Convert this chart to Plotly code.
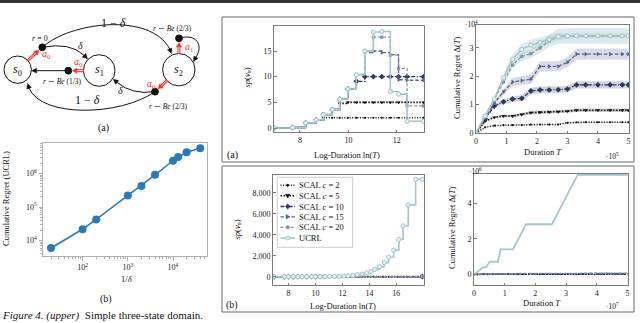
import math
import plotly.graph_objects as go

W, H = 640, 323
def X(p): return p / W
def Y(p): return 1 - p / H

# ---------------- data ----------------
# (b, left) cumulative regret of UCRL vs 1/delta (log-log)
inv_delta = [20, 100, 200, 1000, 2000, 4000, 10000, 13000, 20000, 40000]
ucrl_regret = [6000, 21900, 42700, 220000, 427000, 912000, 2.4e6, 3.1e6, 4.3e6, 5.7e6]
ucrl_regret_lo = [5200, 20400, 41500, 214000, 420000, 900000, 2.37e6, 3.07e6, 4.25e6, 5.65e6]
ucrl_regret_hi = [6500, 22800, 44000, 226000, 435000, 925000, 2.43e6, 3.13e6, 4.35e6, 5.75e6]
log_xticks = [100, 1000, 10000]
log_xtick_text = ["10<sup>2</sup>", "10<sup>3</sup>", "10<sup>4</sup>"]
log_yticks = [1e4, 1e5, 1e6]
log_ytick_text = ["10<sup>4</sup>", "10<sup>5</sup>", "10<sup>6</sup>"]

# (a, right top) span sp(v_n) vs ln(T)
lnT_a = [6.93, 7.7, 8.24, 8.67, 8.97, 9.33, 9.64, 9.98, 10.33, 10.68, 11.03, 11.38, 11.73, 12.07, 12.42, 13.1]
sp_a_c2 = [0, 0.1, 1.0, 1.6, 2.0, 2.0, 2.0, 2.0, 2.0, 2.0, 2.0, 2.0, 2.0, 2.0, 2.0, 2.0]
sp_a_c5 = [0, 0.1, 1.0, 1.6, 2.6, 3.6, 4.8, 5.0, 5.0, 5.0, 5.0, 5.0, 5.0, 5.0, 5.0, 5.0]
sp_a_c10 = [0, 0.1, 1.0, 1.6, 2.6, 3.6, 5.6, 7.6, 9.1, 10.0, 10.0, 10.0, 10.0, 10.0, 10.0, 10.0]
sp_a_c15 = [0, 0.1, 1.0, 1.6, 2.6, 3.6, 5.6, 7.6, 10.4, 14.7, 15.0, 14.7, 14.3, 9.4, 9.3, 9.3]
sp_a_c20 = [0, 0.1, 1.0, 1.6, 2.6, 3.6, 5.6, 7.6, 10.4, 15.0, 17.7, 17.7, 14.2, 11.6, 4.3, 4.3]
sp_a_ucrl = [0, 0.1, 1.0, 1.6, 2.6, 3.6, 5.6, 7.6, 10.4, 15.0, 18.7, 18.8, 7.1, 6.6, 1.3, 1.3]

# (a, right top) cumulative regret (x1e4) vs duration (x1e5), mean and half band
T_a = [0, 0.3, 0.6, 0.9, 1.2, 1.5, 1.8, 2.1, 2.4, 2.7, 3.0, 3.3, 3.6, 4.0, 4.4, 4.8, 5.0]
reg_a_ucrl = [0, 0.6, 1.2, 1.95, 2.6, 2.95, 3.1, 3.2, 3.3, 3.4, 3.42, 3.43, 3.43, 3.43, 3.43, 3.43, 3.43]
reg_a_ucrl_hw = [0, 0.02, 0.05, 0.1, 0.16, 0.2, 0.2, 0.18, 0.15, 0.12, 0.1, 0.08, 0.06, 0.05, 0.05, 0.05, 0.05]
reg_a_c20 = [0, 0.6, 1.15, 1.8, 2.4, 2.7, 2.8, 3.0, 3.25, 3.42, 3.42, 3.42, 3.42, 3.42, 3.42, 3.42, 3.42]
reg_a_c20_hw = [0, 0.02, 0.05, 0.08, 0.12, 0.15, 0.15, 0.18, 0.22, 0.26, 0.28, 0.28, 0.28, 0.28, 0.28, 0.28, 0.28]
reg_a_c15 = [0, 0.55, 1.05, 1.45, 1.8, 1.85, 1.9, 2.35, 2.35, 2.35, 2.5, 2.78, 2.78, 2.78, 2.78, 2.78, 2.78]
reg_a_c15_hw = [0, 0.03, 0.06, 0.1, 0.14, 0.16, 0.17, 0.18, 0.18, 0.18, 0.18, 0.2, 0.2, 0.2, 0.2, 0.2, 0.2]
reg_a_c10 = [0, 0.5, 0.95, 1.1, 1.2, 1.22, 1.48, 1.52, 1.52, 1.53, 1.55, 1.7, 1.7, 1.7, 1.7, 1.7, 1.7]
reg_a_c10_hw = [0, 0.03, 0.06, 0.09, 0.1, 0.11, 0.12, 0.12, 0.12, 0.12, 0.12, 0.13, 0.13, 0.13, 0.13, 0.13, 0.13]
reg_a_c5 = [0, 0.42, 0.55, 0.6, 0.6, 0.65, 0.72, 0.73, 0.74, 0.75, 0.77, 0.8, 0.8, 0.8, 0.8, 0.8, 0.8]
reg_a_c5_hw = [0, 0.02, 0.03, 0.04, 0.05, 0.05, 0.06, 0.06, 0.06, 0.06, 0.06, 0.06, 0.06, 0.06, 0.06, 0.06, 0.06]
reg_a_c2 = [0, 0.2, 0.26, 0.28, 0.28, 0.28, 0.3, 0.3, 0.3, 0.3, 0.36, 0.38, 0.38, 0.38, 0.38, 0.38, 0.38]
reg_a_c2_hw = [0, 0.01, 0.01, 0.015, 0.02, 0.02, 0.02, 0.02, 0.02, 0.02, 0.02, 0.02, 0.02, 0.02, 0.02, 0.02, 0.02]

# (b, right bottom) span vs ln(T)
lnT_b = [6.93, 7.7, 8.0, 8.35, 8.7, 9.0, 9.35, 9.7, 10.0, 10.35, 10.7, 11.05, 11.4, 11.75, 12.1, 12.42,
         12.77, 13.1, 13.45, 13.8, 14.1, 14.4, 14.75, 15.1, 15.43, 15.8, 16.18, 16.5, 16.88, 17.43, 17.93]
sp_b_ucrl = [0, 0, 1, 2, 3, 4, 6, 8, 10, 12, 15, 20, 30, 40, 60, 90, 130, 190, 260, 360, 500, 700, 960,
             1350, 1860, 2540, 3560, 4860, 6860, 9300, 9300]
lnT_b_scal = [6.93, 7.7, 8.0, 8.35, 8.7, 9.0, 9.35, 9.7, 10.0, 10.35, 10.7, 17.93]
sp_b_c2 = [0, 0, 1, 2, 2, 2, 2, 2, 2, 2, 2, 2]
sp_b_c5 = [0, 0, 1, 2, 3, 4, 5, 5, 5, 5, 5, 5]
sp_b_c10 = [0, 0, 1, 2, 3, 4, 6, 8, 10, 10, 10, 10]
sp_b_c15 = [0, 0, 1, 2, 3, 4, 6, 8, 10, 12, 15, 15]
sp_b_c20 = [0, 0, 1, 2, 3, 4, 6, 8, 10, 12, 15, 18]
sp_b_yticks = [0, 2000, 4000, 6000, 8000]
sp_b_ytick_text = ["0", "2,000", "4,000", "6,000", "8,000"]

# (b, right bottom) cumulative regret (x1e6) vs duration (x1e7)
T_b = [0, 0.15, 0.29, 0.4, 0.51, 0.78, 0.87, 1.27, 1.70, 2.54, 3.38, 5.0]
reg_b_ucrl = [0, 0.2, 0.39, 0.4, 0.71, 0.71, 1.41, 1.41, 2.82, 2.82, 5.6, 5.6]
T_b_scal = [0, 0.5, 1, 1.5, 2, 2.5, 3, 3.5, 4, 4.5, 5]
reg_b_c2 = [0, 0.004, 0.005, 0.006, 0.006, 0.006, 0.006, 0.007, 0.007, 0.007, 0.007]
reg_b_c5 = [0, 0.008, 0.01, 0.012, 0.013, 0.014, 0.015, 0.015, 0.016, 0.016, 0.016]
reg_b_c10 = [0, 0.015, 0.02, 0.025, 0.028, 0.03, 0.031, 0.032, 0.033, 0.034, 0.034]
reg_b_c15 = [0, 0.02, 0.03, 0.035, 0.04, 0.043, 0.045, 0.047, 0.048, 0.05, 0.05]
reg_b_c20 = [0, 0.025, 0.04, 0.048, 0.053, 0.057, 0.06, 0.062, 0.064, 0.066, 0.067]

legend_names = ["SCAL <i>c</i> = 2", "SCAL <i>c</i> = 5", "SCAL <i>c</i> = 10",
                "SCAL <i>c</i> = 15", "SCAL <i>c</i> = 20", "UCRL"]

# ---------------- styles ----------------
STY = {
    "c2": dict(color="#111111", dash="1px,1.6px", width=1.6, symbol="circle", size=2.2, band="rgba(40,40,40,0.22)"),
    "c5": dict(color="#151515", dash="1.5px,1.5px", width=1.6, symbol="triangle-down", size=3.8, band="rgba(40,40,45,0.25)"),
    "c10": dict(color="#2d385c", dash="4px,1.5px,1.2px,1.5px", width=1.3, symbol="diamond", size=4.5, band="rgba(70,80,130,0.25)"),
    "c15": dict(color="#56648c", dash="3.5px,2px", width=1.3, symbol="triangle-right", size=4.2, band="rgba(100,110,155,0.25)"),
    "c20": dict(color="#8691a9", dash="3px,2px", width=1.3, symbol="square", size=3.2, band="rgba(150,192,196,0.35)"),
    "ucrl": dict(color="#a3c6cb", dash="solid", width=1.6, symbol="circle", size=4.2, band="rgba(160,200,204,0.35)"),
}
ORDER = ["c2", "c5", "c10", "c15", "c20", "ucrl"]

FONT = "Liberation Serif"
fig = go.Figure()

def marker_for(k):
    s = STY[k]
    if k == "ucrl":
        return dict(symbol="circle", size=s["size"], color="#e3eff0", line=dict(color=s["color"], width=1))
    return dict(symbol=s["symbol"], size=s["size"], color=s["color"], line=dict(width=0))

# log-log plot
fig.add_trace(go.Scatter(x=inv_delta + inv_delta[::-1], y=ucrl_regret_hi + ucrl_regret_lo[::-1],
                         fill="toself", fillcolor="rgba(120,195,165,0.45)", line=dict(width=0),
                         mode="lines", xaxis="x", yaxis="y", hoverinfo="skip", showlegend=False))
fig.add_trace(go.Scatter(x=inv_delta, y=ucrl_regret, mode="lines+markers",
                         line=dict(color="#2a7ab8", width=1.5), marker=dict(size=8, color="#2a7ab8"),
                         xaxis="x", yaxis="y", showlegend=False))

# top-left span steps
sp_a = {"c2": sp_a_c2, "c5": sp_a_c5, "c10": sp_a_c10, "c15": sp_a_c15, "c20": sp_a_c20, "ucrl": sp_a_ucrl}
for k in ORDER:
    s = STY[k]
    fig.add_trace(go.Scatter(x=lnT_a, y=sp_a[k], mode="lines+markers", line_shape="hv",
                             line=dict(color=s["color"], width=s["width"], dash=s["dash"]),
                             marker=marker_for(k), xaxis="x2", yaxis="y2", showlegend=False))

# top-right regret with bands
reg_a = {"c2": (reg_a_c2, reg_a_c2_hw), "c5": (reg_a_c5, reg_a_c5_hw), "c10": (reg_a_c10, reg_a_c10_hw),
         "c15": (reg_a_c15, reg_a_c15_hw), "c20": (reg_a_c20, reg_a_c20_hw), "ucrl": (reg_a_ucrl, reg_a_ucrl_hw)}
for k in ORDER:
    m, hw = reg_a[k]
    hi = [a + b for a, b in zip(m, hw)]
    lo = [a - b for a, b in zip(m, hw)]
    fig.add_trace(go.Scatter(x=T_a + T_a[::-1], y=hi + lo[::-1], fill="toself", fillcolor=STY[k]["band"],
                             line=dict(width=0), mode="lines", xaxis="x3", yaxis="y3",
                             hoverinfo="skip", showlegend=False))
for k in ORDER:
    s = STY[k]
    fig.add_trace(go.Scatter(x=T_a, y=reg_a[k][0], mode="lines+markers",
                             line=dict(color=s["color"], width=s["width"], dash=s["dash"]),
                             marker=marker_for(k), xaxis="x3", yaxis="y3", showlegend=False))

# bottom-left span steps
sp_b = {"c2": sp_b_c2, "c5": sp_b_c5, "c10": sp_b_c10, "c15": sp_b_c15, "c20": sp_b_c20}
for k in ORDER[:-1]:
    s = STY[k]
    fig.add_trace(go.Scatter(x=lnT_b_scal, y=sp_b[k], mode="lines+markers", line_shape="hv",
                             line=dict(color=s["color"], width=s["width"], dash=s["dash"]),
                             marker=marker_for(k), xaxis="x4", yaxis="y4", showlegend=False))
s = STY["ucrl"]
fig.add_trace(go.Scatter(x=lnT_b, y=sp_b_ucrl, mode="lines+markers", line_shape="hv",
                         line=dict(color=s["color"], width=s["width"]),
                         marker=marker_for("ucrl"), xaxis="x4", yaxis="y4", showlegend=False))

# bottom-right regret
reg_b = {"c2": reg_b_c2, "c5": reg_b_c5, "c10": reg_b_c10, "c15": reg_b_c15, "c20": reg_b_c20}
for k in ORDER[:-1]:
    s = STY[k]
    fig.add_trace(go.Scatter(x=T_b_scal, y=reg_b[k], mode="lines",
                             line=dict(color=s["color"], width=s["width"], dash=s["dash"]),
                             xaxis="x5", yaxis="y5", showlegend=False))
fig.add_trace(go.Scatter(x=T_b, y=reg_b_ucrl, mode="lines", line=dict(color=STY["ucrl"]["color"], width=1.8),
                         xaxis="x5", yaxis="y5", showlegend=False))

# ---------------- axes ----------------
def axis(domain, rng, anchor, tickvals=None, ticktext=None, **kw):
    d = dict(domain=domain, range=rng, anchor=anchor, showline=True, mirror=True, linecolor="#7a7a7a",
             linewidth=1, ticks="inside", ticklen=2.5, tickcolor="#7a7a7a", showgrid=False, zeroline=False,
             tickfont=dict(size=8, color="#222", family=FONT), automargin=False)
    if tickvals is not None:
        d["tickvals"] = tickvals
    if ticktext is not None:
        d["ticktext"] = ticktext
    d.update(kw)
    return d

minor_log_x = [d * 10 ** e for e in range(1, 5) for d in range(2, 10)]
minor_log_y = [d * 10 ** e for e in range(3, 7) for d in range(2, 10)]
layout_axes = dict(
    xaxis=axis([X(43), X(207)], [1.124, 4.752], "y", log_xticks, log_xtick_text, type="log",
               ticks="outside", ticklen=3.5, linecolor="#b0b0b0", tickcolor="#b0b0b0",
               minor=dict(tickvals=minor_log_x, ticks="outside", ticklen=2, tickcolor="#b0b0b0")),
    yaxis=axis([Y(256), Y(143)], [3.54, 6.91], "x", log_yticks, log_ytick_text, type="log",
               ticks="outside", ticklen=3.5, linecolor="#b0b0b0", tickcolor="#b0b0b0",
               minor=dict(tickvals=minor_log_y, ticks="outside", ticklen=2, tickcolor="#b0b0b0")),
    xaxis2=axis([X(274), X(424)], [6.93, 13.12], "y2", [8, 10, 12]),
    yaxis2=axis([Y(132), Y(26)], [-0.78, 19.87], "x2", [0, 5, 10, 15]),
    xaxis3=axis([X(476), X(629)], [0, 5.02], "y3", [0, 1, 2, 3, 4, 5]),
    yaxis3=axis([Y(133), Y(25)], [0, 3.81], "x3", [0, 1, 2, 3]),
    xaxis4=axis([X(273), X(424)], [6.85, 18.05], "y4", [8, 10, 12, 14, 16]),
    yaxis4=axis([Y(285), Y(175)], [-790, 9710], "x4", sp_b_yticks, sp_b_ytick_text),
    xaxis5=axis([X(474), X(628)], [0, 5.02], "y5", [0, 1, 2, 3, 4, 5]),
    yaxis5=axis([Y(285), Y(174)], [-0.6, 5.65], "x5", [0, 2, 4]),
)

# ---------------- shapes & annotations ----------------
shapes = []
ann = []

def txt(x, y, t, size=9, color="#111", angle=0, xanchor="center", family=FONT):
    ann.append(dict(x=X(x), y=Y(y), xref="paper", yref="paper", text=t, showarrow=False,
                    font=dict(size=size, color=color, family=family), textangle=angle,
                    xanchor=xanchor, yanchor="middle"))

def pstr(cmds):
    out = []
    for c in cmds:
        out.append(c[0] + " " + " ".join(f"{X(p[0]):.5f},{Y(p[1]):.5f}" for p in c[1:]))
    return " ".join(out)

def path(cmds, color="#111", width=1, fill=None):
    d = dict(type="path", xref="paper", yref="paper", path=pstr(cmds), line=dict(color=color, width=width))
    if fill:
        d["fillcolor"] = fill
        d["line"] = dict(color=fill, width=0.5)
    shapes.append(d)

def head(tip, frm, color="#111", L=5.0, w=2.4):
    ux, uy = tip[0] - frm[0], tip[1] - frm[1]
    n = math.hypot(ux, uy)
    ux, uy = ux / n, uy / n
    bx, by = tip[0] - ux * L, tip[1] - uy * L
    p1 = (bx - uy * w, by + ux * w)
    p2 = (bx + uy * w, by - ux * w)
    path([("M", tip), ("L", p1), ("L", p2), ("Z",)], fill=color)
    return (bx, by)

def circle(cx, cy, r, line="#111", fill=None, width=1):
    d = dict(type="circle", xref="paper", yref="paper", x0=X(cx - r), x1=X(cx + r), y0=Y(cy + r), y1=Y(cy - r),
             line=dict(color=line, width=width))
    if fill:
        d["fillcolor"] = fill
    shapes.append(d)

def red_arrow(a, b):
    base = head(b, a, color="#ff2a2a", L=4.5, w=2.6)
    path([("M", a), ("L", base)], color="#ff2a2a", width=3)
    path([("M", a), ("L", base)], color="#ffffff", width=0.9)

# top dark bar (edge of the page above), drawn as a thick line, and panel frames
shapes.append(dict(type="line", xref="paper", yref="paper", x0=0, x1=1, y0=Y(1.5), y1=Y(1.5),
                   line=dict(color="#333333", width=3), layer="above"))
for (y0, y1) in [(17, 162), (166, 312)]:
    shapes.append(dict(type="rect", xref="paper", yref="paper", x0=X(222), x1=X(634), y0=Y(y1), y1=Y(y0),
                       line=dict(color="#666", width=1)))

# three-state MDP diagram
S0, S1, S2 = (17.7, 69.7, 13.7), (99.2, 70.5, 15.8), (178.8, 69.7, 16.2)
for (cx, cy, r) in (S0, S1, S2):
    circle(cx, cy, r)
txt(S0[0], S0[1], "<i>s</i><sub>0</sub>", size=12)
txt(S1[0], S1[1], "<i>s</i><sub>1</sub>", size=12)
txt(S2[0], S2[1], "<i>s</i><sub>2</sub>", size=12)

D0, D1, D2T, D2B = (42.3, 47.3), (68.3, 70.7), (179.0, 38.3), (155.0, 91.7)
# black transitions
b = head((87.5, 58.8), (76, 47))
path([("M", D0), ("Q", (70, 42), b)])
b = head((171.5, 53.5), (162, 30))
path([("M", D0), ("C", (70, 22), (150, 12), b)])
b = head((31.6, 70.7), (60, 70.7))
path([("M", D1), ("L", b)])
b = head((193.5, 61.5), (200, 50))
path([("M", D2T), ("C", (196, 33), (204, 45), b)])
b = head((113.3, 79.3), (124, 88))
path([("M", D2B), ("Q", (132, 95), b)])
b = head((27.5, 83.5), (33, 100))
path([("M", D2B), ("C", (120, 116), (42, 118), b)])
for (dx, dy) in (D0, D1, D2T, D2B):
    circle(dx, dy, 3.4, line="#111", fill="#111")
# red actions
red_arrow((27.8, 60.5), (38.9, 50.2))
red_arrow((83.4, 70.7), (72.4, 70.7))
red_arrow((178.9, 53.5), (179.0, 42.4))
red_arrow((166.9, 80.7), (158.0, 88.8))
red = "#ff2a2a"
txt(46.5, 55, "<i>a</i><sub>0</sub>", size=10, color=red)
txt(78, 62.5, "<i>a</i><sub>0</sub>", size=10, color=red)
txt(189.5, 48, "<i>a</i><sub>1</sub>", size=10, color=red)
txt(151.5, 84.5, "<i>a</i><sub>0</sub>", size=10, color=red)
txt(40, 38, "<i>r</i> = 0", size=8)
txt(113, 23, "1 − <i>δ</i>", size=12)
txt(80, 45, "<i>δ</i>", size=10)
txt(62.5, 81.5, "<i>r</i> ∼ <i>Be</i> (1/3)", size=7.5)
txt(172, 28.5, "<i>r</i> ∼ <i>Be</i> (2/3)", size=7.5)
txt(120, 91, "<i>δ</i>", size=10)
txt(87, 99.5, "1 − <i>δ</i>", size=12)
txt(168, 106.5, "<i>r</i> ∼ <i>Be</i> (2/3)", size=7.5)
txt(103.5, 128.5, "(a)", size=10)

# log plot labels
txt(6, 199, "Cumulative Regret (UCRL)", size=8.5, angle=-90)
txt(126.5, 278.5, "1/<i>δ</i>", size=8.5)
txt(106, 299, "(b)", size=10)
ann.append(dict(x=0, y=Y(315.5), xref="paper", yref="paper", showarrow=False, xanchor="left", yanchor="middle",
                text="<i>Figure 4. (upper)</i>  Simple three-state domain.",
                font=dict(size=11, color="#111", family=FONT)))

# panel labels
txt(246.5, 78, "<i>sp</i>(<i>v<sub>n</sub></i>)", size=8.5, angle=-90)
txt(347, 155, "Log-Duration ln(<i>T</i>)", size=8.5)
txt(232, 154.5, "(a)", size=10)
txt(457, 78, "Cumulative Regret Δ(<i>T</i>)", size=8.5, angle=-90)
txt(543, 152, "Duration <i>T</i>", size=8.5)
txt(612, 155.5, "·10<sup>5</sup>", size=7.5)
txt(471, 24.5, "·10<sup>4</sup>", size=7.5)

txt(236.5, 230, "<i>sp</i>(<i>v<sub>n</sub></i>)", size=8.5, angle=-90)
txt(343, 305.5, "Log-Duration ln(<i>T</i>)", size=8.5)
txt(232, 304.5, "(b)", size=10)
txt(452, 228, "Cumulative Regret Δ(<i>T</i>)", size=8.5, angle=-90)
txt(542, 302.5, "Duration <i>T</i>", size=8.5)
txt(612, 305.5, "·10<sup>7</sup>", size=7.5)
txt(475, 170.5, "·10<sup>6</sup>", size=7.5)

# manual legend (bottom-left panel)
shapes.append(dict(type="rect", xref="paper", yref="paper", x0=X(277.3), x1=X(352.7), y0=Y(247.3), y1=Y(177.3),
                   fillcolor="#ffffff", line=dict(color="#cccccc", width=1)))
leg_y = [185.3, 195.8, 206.5, 216.8, 227.3, 238.0]

def glyph(k, cx, cy):
    s = STY[k]
    c = s["color"]
    if k == "c2":
        circle(cx, cy, 1.0, line=c, fill=c)
    elif k == "ucrl":
        circle(cx, cy, 2.0, line=c, fill="#e3eff0")
    elif k == "c5":
        path([("M", (cx - 2.4, cy - 1.6)), ("L", (cx + 2.4, cy - 1.6)), ("L", (cx, cy + 2.2)), ("Z",)], fill=c)
    elif k == "c10":
        path([("M", (cx, cy - 2.7)), ("L", (cx + 2.2, cy)), ("L", (cx, cy + 2.7)), ("L", (cx - 2.2, cy)), ("Z",)], fill=c)
    elif k == "c15":
        path([("M", (cx - 1.7, cy - 2.3)), ("L", (cx + 2.3, cy)), ("L", (cx - 1.7, cy + 2.3)), ("Z",)], fill=c)
    elif k == "c20":
        path([("M", (cx - 1.5, cy - 1.5)), ("L", (cx + 1.5, cy - 1.5)), ("L", (cx + 1.5, cy + 1.5)),
              ("L", (cx - 1.5, cy + 1.5)), ("Z",)], fill=c)

for k, name, ly in zip(ORDER, legend_names, leg_y):
    s = STY[k]
    dash = "solid" if k == "ucrl" else s["dash"]
    shapes.append(dict(type="line", xref="paper", yref="paper", x0=X(280.5), x1=X(295), y0=Y(ly), y1=Y(ly),
                       line=dict(color=s["color"], width=s["width"], dash=dash)))
    glyph(k, 287.7, ly)
    txt(297, ly, name, size=8.5, xanchor="left")

fig.update_layout(
    width=W, height=H, margin=dict(l=0, r=0, t=0, b=0), paper_bgcolor="white", plot_bgcolor="white",
    showlegend=False, shapes=shapes, annotations=ann, font=dict(family=FONT, size=9, color="#111"),
    **layout_axes,
)
fig.write_html("out.html", config={"displayModeBar": False, "staticPlot": True},
               post_script="document.body.style.margin='0px';document.body.style.overflow='hidden';")
